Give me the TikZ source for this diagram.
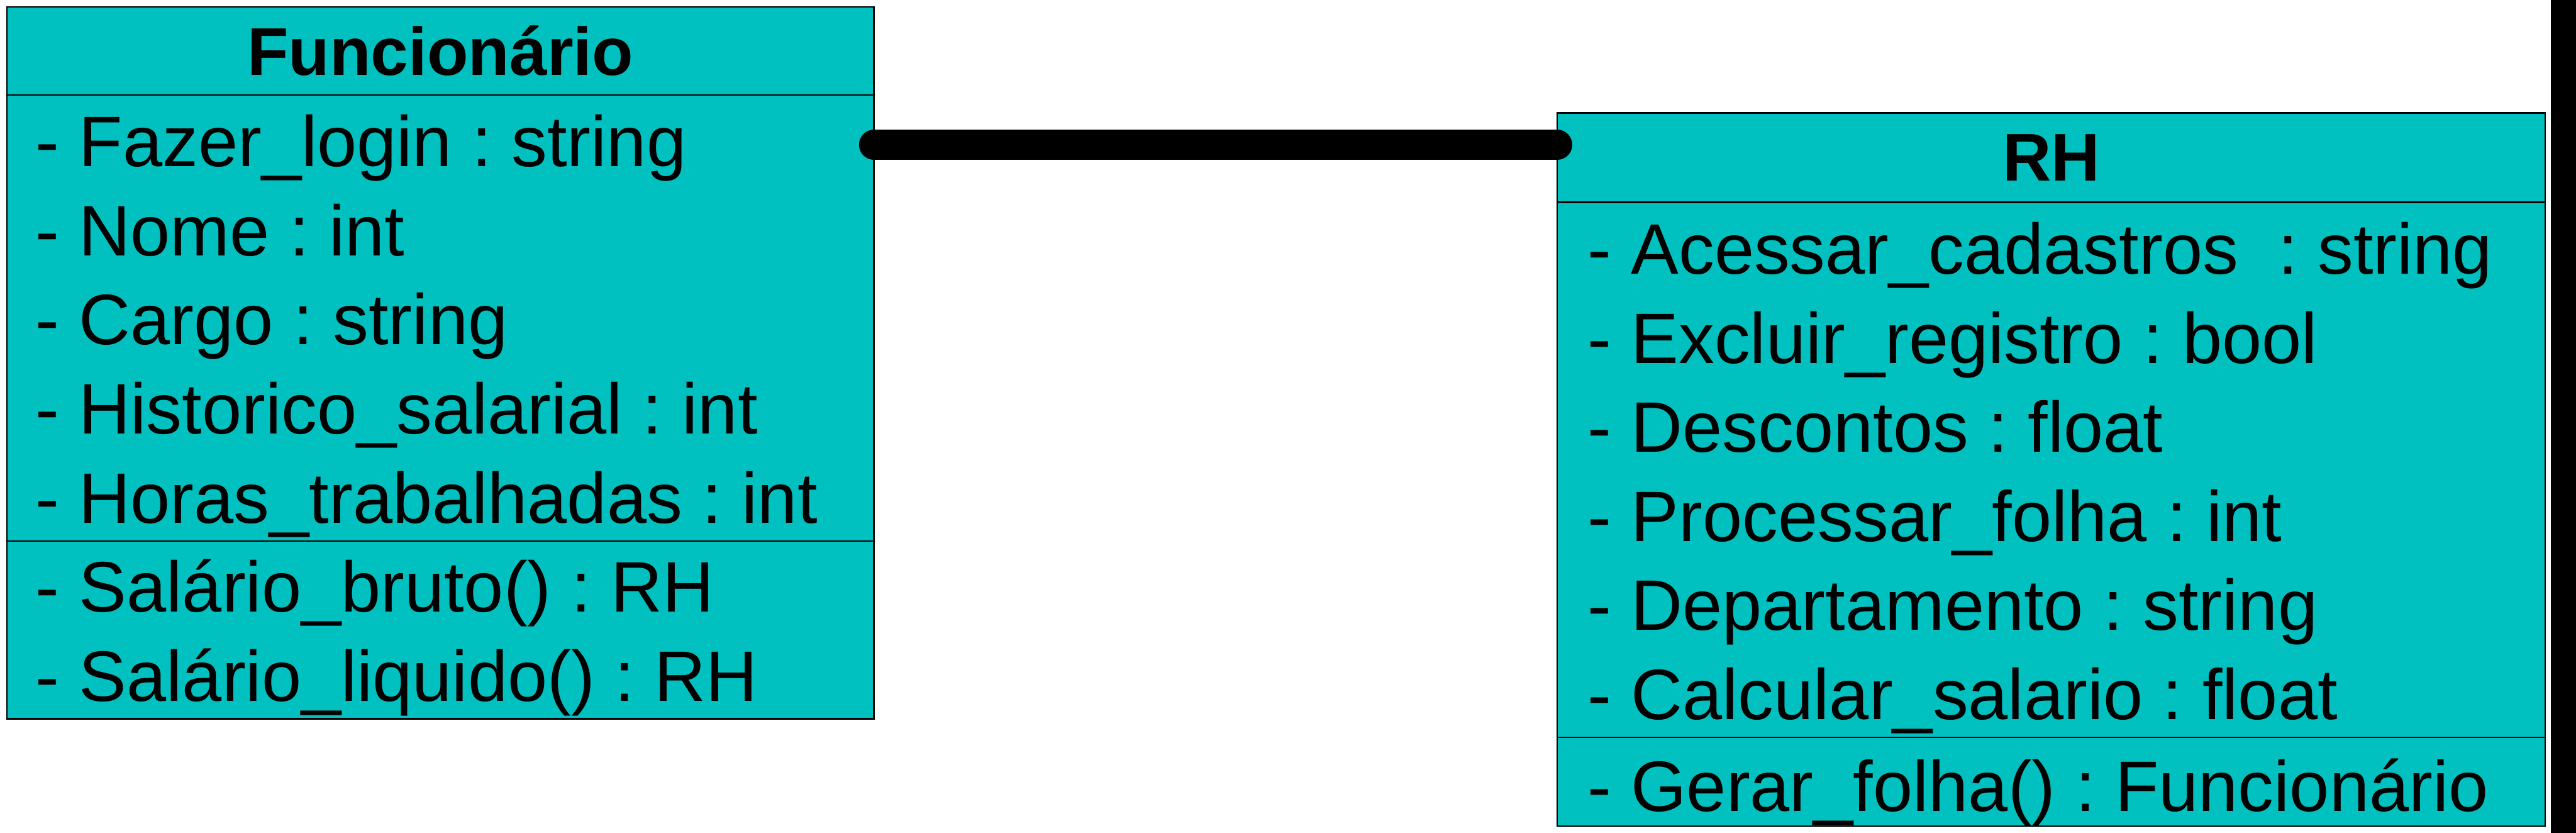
\documentclass[tikz,border=0pt]{standalone}
\usepackage{fontspec}
\setmainfont{Liberation Sans}
\usepackage{tikz}
\usetikzlibrary{positioning}
\frenchspacing
\definecolor{clsteal}{RGB}{0,192,192}
\newcommand{\umlsize}{\fontsize{42.1}{50}\selectfont}
\tikzset{%
  part/.style = {rectangle,draw=black,line width=0.9pt,fill=clsteal,
        inner sep=0pt,outer sep=0pt,minimum width=#1},
  ttl/.style = {font=\fontsize{39.8}{48}\selectfont\bfseries},
  attr/.style = {anchor=base west,inner sep=0pt},
  assoc/.style = {line width=0.62cm,line cap=round},
  bar/.style = {rectangle,fill=black,inner sep=0pt,outer sep=0pt}
}

\begin{document}
\begin{tikzpicture}[
font=\umlsize
]
\useasboundingbox (0,0) rectangle (53.38,-17.25);
\node[bar,anchor=north east,minimum width=0.52cm,minimum height=17.25cm] (edgebar) at (53.38,0) {};

% Funcionario
\node[part=17.97cm,ttl,minimum height=1.83cm,anchor=north west] (func-title) at (0.14,-0.14) {Funcionário};
\node[part=17.97cm,minimum height=9.24cm,below=0pt of func-title] (func-attr) {};
\node[part=17.97cm,minimum height=3.68cm,below=0pt of func-attr] (func-ops) {};
\node[attr] (func-a1) at (0.73,-3.45) {- Fazer\_login : string};
\node[attr] (func-a2) at (0.73,-5.30) {- Nome : int};
\node[attr] (func-a3) at (0.73,-7.14) {- Cargo : string};
\node[attr] (func-a4) at (0.73,-8.99) {- Historico\_salarial : int};
\node[attr] (func-a5) at (0.73,-10.84) {- Horas\_trabalhadas : int};
\node[attr] (func-o1) at (0.73,-12.68) {- Salário\_bruto() : RH};
\node[attr] (func-o2) at (0.73,-14.53) {- Salário\_liquido() : RH};

% RH
\node[part=20.47cm,ttl,minimum height=1.85cm,anchor=north west] (rh-title) at (32.27,-2.34) {RH};
\node[part=20.47cm,minimum height=11.08cm,below=0pt of rh-title] (rh-attr) {};
\node[part=20.47cm,minimum height=1.84cm,below=0pt of rh-attr] (rh-ops) {};
\node[attr] (rh-a1) at (32.89,-5.67) {- Acessar\_cadastros \ : string};
\node[attr] (rh-a2) at (32.89,-7.52) {- Excluir\_registro : bool};
\node[attr] (rh-a3) at (32.89,-9.36) {- Descontos : float};
\node[attr] (rh-a4) at (32.89,-11.21) {- Processar\_folha : int};
\node[attr] (rh-a5) at (32.89,-13.05) {- Departamento : string};
\node[attr] (rh-a6) at (32.89,-14.90) {- Calcular\_salario : float};
\node[attr] (rh-o1) at (32.89,-16.80) {- Gerar\_folha() : Funcionário};

% ligacao
\coordinate (lnk) at ([yshift=-1.03cm]func-attr.north east);
\draw[assoc] (lnk) -- (lnk -| rh-title.west);
\end{tikzpicture}
\end{document}
